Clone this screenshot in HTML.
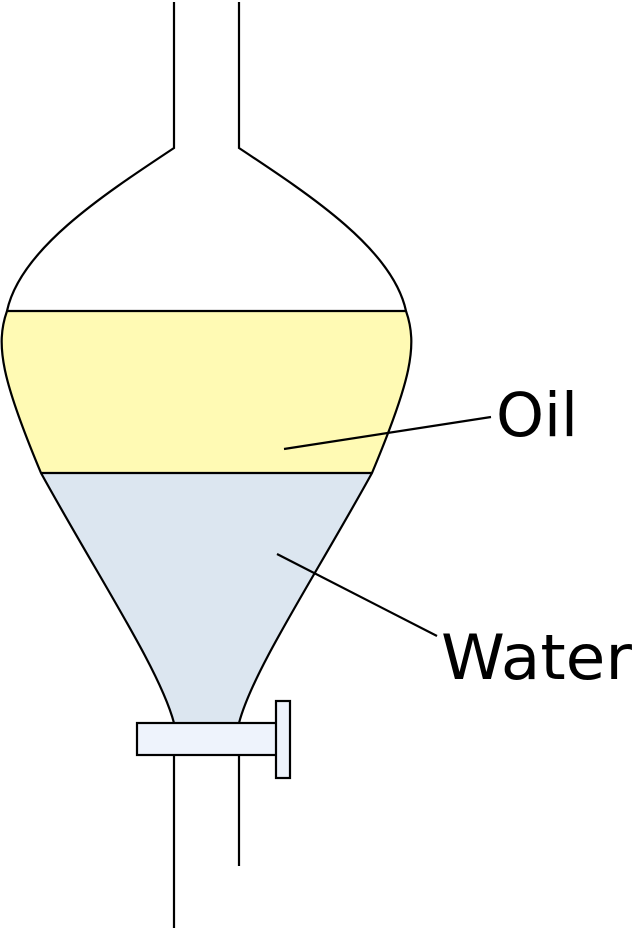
<!DOCTYPE html>
<html><head><style>body{margin:0;background:#fff}svg{display:block}</style></head><body>
<svg width="640" height="931" viewBox="0 0 640 931" xmlns="http://www.w3.org/2000/svg">
<path d="M7,311 C-5,345 2,380 41,473 L372,473 C411,380 418,345 406,311 Z" fill="#fffab4"/>
<path d="M41,473 C100,580 160,670 174,723 L239,723 C253,670 313,580 372,473 Z" fill="#dce6f0"/>
<g fill="none" stroke="#000" stroke-width="2.2">
<path d="M174,2 L174,148 C100,197 20,250 7,311 C-5,345 2,380 41,473 C100,580 160,670 174,723"/>
<path d="M239,2 L239,148 C313,197 393,250 406,311 C418,345 411,380 372,473 C313,580 253,670 239,723"/>
<line x1="7" y1="311" x2="406" y2="311"/>
<line x1="41" y1="473" x2="372" y2="473"/>
<line x1="174" y1="755" x2="174" y2="928"/>
<line x1="239" y1="755" x2="239" y2="866"/>
<line x1="284" y1="449" x2="491" y2="417"/>
<line x1="277" y1="554" x2="437" y2="636"/>
</g>
<rect x="137" y="723" width="140" height="32" fill="#eef3fc" stroke="#000" stroke-width="2.2"/>
<rect x="276" y="701" width="14" height="77" fill="#eef3fc" stroke="#000" stroke-width="2.2"/>
<text x="496" y="436" font-family="DejaVu Sans, Liberation Sans, sans-serif" font-size="61" textLength="82" lengthAdjust="spacingAndGlyphs">Oil</text>
<text x="441" y="679" font-family="DejaVu Sans, Liberation Sans, sans-serif" font-size="62" textLength="191" lengthAdjust="spacingAndGlyphs">Water</text>
</svg>
</body></html>
